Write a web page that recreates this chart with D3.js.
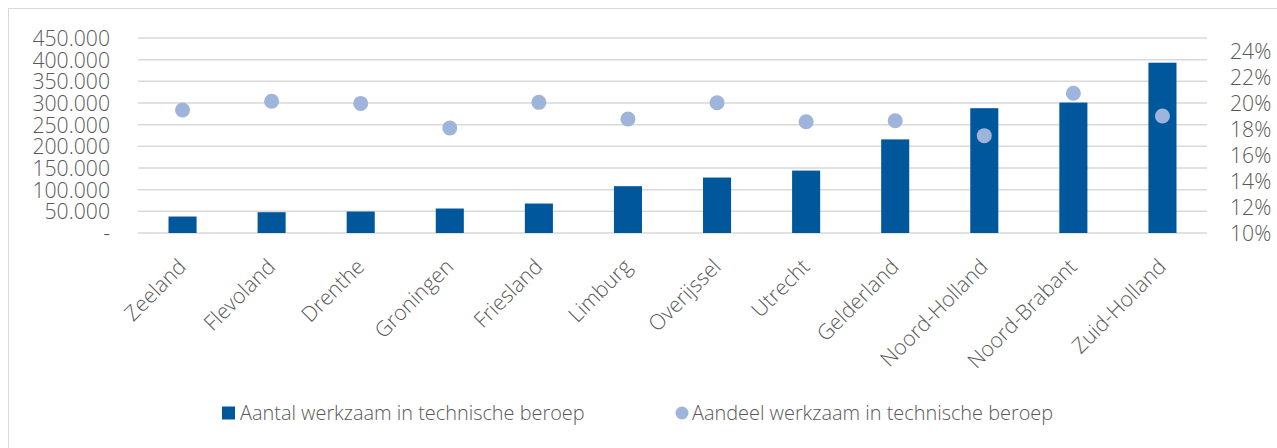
<!DOCTYPE html>
<html>
<head>
<meta charset="utf-8">
<script src="https://cdn.jsdelivr.net/npm/d3@7"></script>
<style>
    body { margin: 0; background: #fff; }
    svg text { font-family: "Open Sans", sans-serif; font-weight: 300; fill: #595959; }
</style>
</head>
<body>
<div class="chart"></div>
<script>
const provinces = ['Zeeland', 'Flevoland', 'Drenthe', 'Groningen', 'Friesland', 'Limburg',
    'Overijssel', 'Utrecht', 'Gelderland', 'Noord-Holland', 'Noord-Brabant', 'Zuid-Holland']
const aantal = [38000, 48000, 49500, 56500, 68000, 108000, 128000, 144000, 216000, 288000, 301000, 393000]
const aandeel = [0.1946, 0.2013, 0.1997, 0.1808, 0.2005, 0.1877, 0.2002, 0.1856, 0.1864, 0.1749, 0.2075, 0.1900]
const leftTicks = [0, 50000, 100000, 150000, 200000, 250000, 300000, 350000, 400000, 450000]
const rightTicks = [0.10, 0.12, 0.14, 0.16, 0.18, 0.20, 0.22, 0.24]
const legendLabels = ['Aantal werkzaam in technische beroep', 'Aandeel werkzaam in technische beroep']

const width = 1277, height = 448
const barColor = '#00579c', dotColor = '#9fb4da', gridColor = '#d9d9d9'
const axisFont = 21.2

const svg = d3.select('.chart').append('svg')
    .attr('width', width)
    .attr('height', height)

// outer frame (only left/top visible in the crop)
svg.append('rect')
    .attr('x', 8.5).attr('y', 8.5)
    .attr('width', width + 20).attr('height', height + 20)
    .attr('fill', 'none').attr('stroke', gridColor)

const x = d3.scaleBand()
    .domain(provinces)
    .range([138, 1207])
    .paddingInner(0.685)
    .paddingOuter(0.3425)

const y = d3.scaleLinear()
    .domain([0, 450000])
    .range([233, 38])

const y2 = d3.scaleLinear()
    .domain([0.10, 0.25])
    .range([233, 38])

const fmt = d => d === 0 ? '-' : d3.format(',')(d).replace(/,/g, '.')

// gridlines
svg.append('g').attr('class', 'grid')
    .selectAll('line')
    .data(leftTicks)
    .join('line')
    .attr('x1', 138).attr('x2', 1207)
    .attr('y1', d => y(d)).attr('y2', d => y(d))
    .attr('stroke', gridColor)
    .attr('stroke-width', 1.5)

// left axis
const leftAxis = svg.append('g')
    .attr('transform', 'translate(110,0)')
    .call(d3.axisLeft(y).tickValues(leftTicks).tickFormat(fmt).tickSize(0).tickPadding(0))
leftAxis.select('.domain').remove()
leftAxis.selectAll('text')
    .attr('font-size', axisFont)
    .attr('dy', '0.35em')
    .attr('fill', '#595959')

// right axis
const rightAxis = svg.append('g')
    .attr('transform', 'translate(1230,0)')
    .call(d3.axisRight(y2).tickValues(rightTicks).tickFormat(d3.format('.0%')).tickSize(0).tickPadding(0))
rightAxis.select('.domain').remove()
rightAxis.selectAll('text')
    .attr('font-size', axisFont)
    .attr('dy', '0.35em')
    .attr('fill', '#595959')

// bars
svg.append('g').attr('class', 'bars')
    .selectAll('rect')
    .data(provinces)
    .join('rect')
    .attr('x', d => x(d))
    .attr('width', x.bandwidth())
    .attr('y', (d, i) => y(aantal[i]))
    .attr('height', (d, i) => y(0) - y(aantal[i]))
    .attr('fill', barColor)

// share dots
svg.append('g').attr('class', 'dots')
    .selectAll('circle')
    .data(provinces)
    .join('circle')
    .attr('cx', d => x(d) + x.bandwidth() / 2)
    .attr('cy', (d, i) => y2(aandeel[i]))
    .attr('r', 7.5)
    .attr('fill', dotColor)

// category labels
svg.append('g').attr('class', 'catLabels')
    .selectAll('text')
    .data(provinces)
    .join('text')
    .text(d => d)
    .attr('text-anchor', 'end')
    .attr('font-size', axisFont)
    .attr('transform', d => `translate(${x(d) + x.bandwidth() / 2 + 5},${268}) rotate(-45)`)

// legend
const legend = svg.append('g').attr('class', 'legend')
    .attr('transform', 'translate(0,413)')

legend.append('rect')
    .attr('x', 222).attr('y', -6.5)
    .attr('width', 13).attr('height', 13)
    .attr('fill', barColor)

legend.append('text')
    .attr('x', 240).attr('dy', '0.35em')
    .attr('font-size', 19.9)
    .text(legendLabels[0])

legend.append('circle')
    .attr('cx', 682).attr('cy', 0).attr('r', 6.5)
    .attr('fill', dotColor)

legend.append('text')
    .attr('x', 692).attr('dy', '0.35em')
    .attr('font-size', 19.9)
    .text(legendLabels[1])
</script>
</body>
</html>
